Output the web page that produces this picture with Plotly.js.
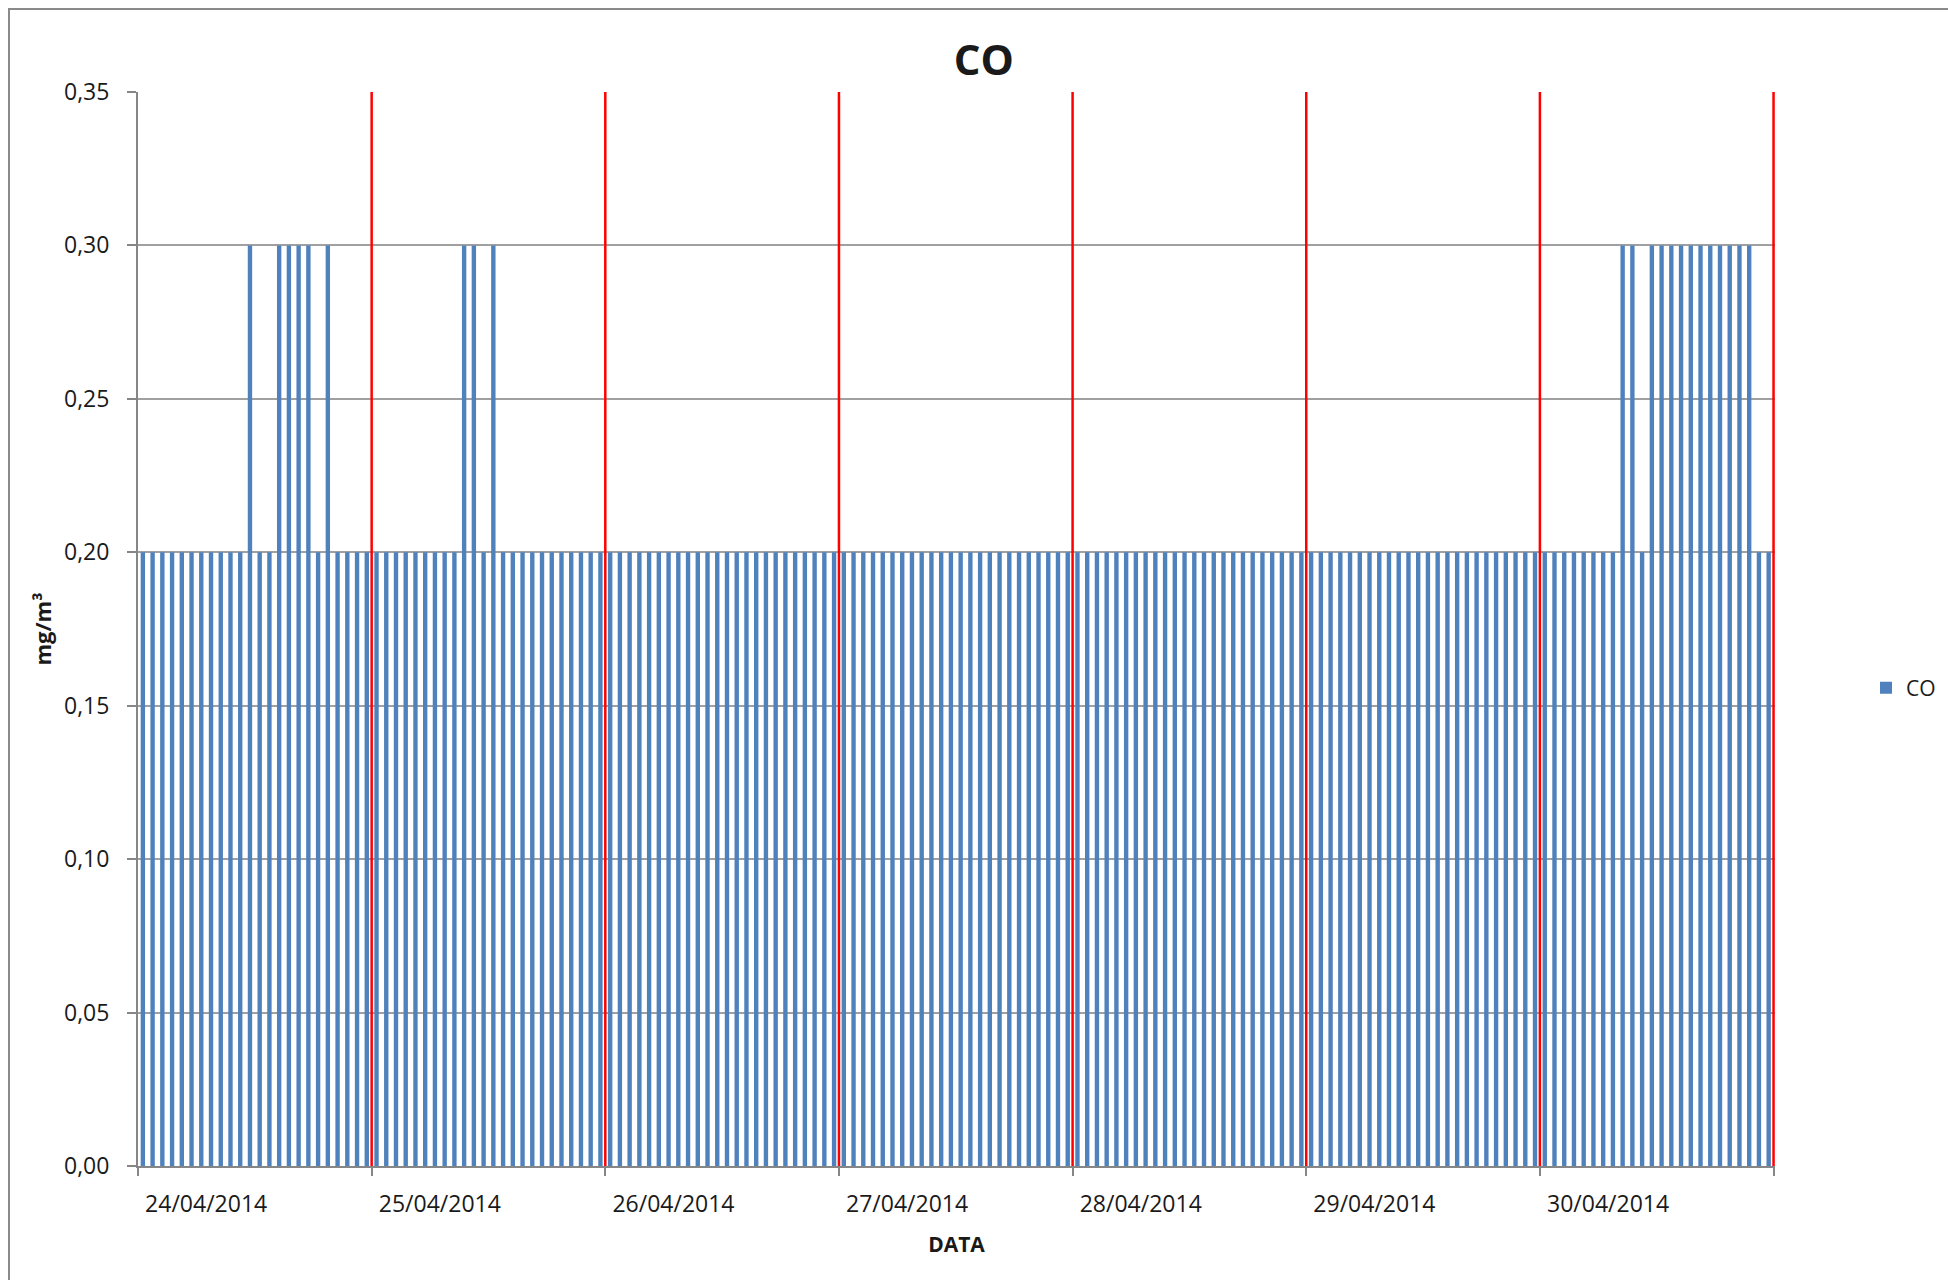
<!DOCTYPE html>
<html>
<head>
<meta charset="utf-8">
<script src="https://cdn.plot.ly/plotly-3.0.1.min.js"></script>
<style>
  html, body { margin: 0; padding: 0; background: #ffffff; overflow: hidden; }
  #frame { position: absolute; left: 8px; top: 8px; width: 2100px; height: 1400px;
           border-left: 2px solid #8a8a8a; border-top: 2px solid #8a8a8a; box-sizing: border-box; }
  #chart { position: absolute; left: 0; top: 0; width: 1948px; height: 1280px; }
</style>
</head>
<body>
<div id="frame"></div>
<div id="chart"></div>
<script>
// Dates (one per day, 24 hourly readings each)
const dates = ["24/04/2014", "25/04/2014", "26/04/2014", "27/04/2014", "28/04/2014", "29/04/2014", "30/04/2014"];
const hoursPerDay = 24;

// Hourly CO values (mg/m³), hours 0..23
const co_24_04 = [0.20,0.20,0.20,0.20,0.20,0.20,0.20,0.20,0.20,0.20,0.20,0.30,0.20,0.20,0.30,0.30,0.30,0.30,0.20,0.30,0.20,0.20,0.20,0.20];
const co_25_04 = [0.20,0.20,0.20,0.20,0.20,0.20,0.20,0.20,0.20,0.30,0.30,0.20,0.30,0.20,0.20,0.20,0.20,0.20,0.20,0.20,0.20,0.20,0.20,0.20];
const co_26_04 = [0.20,0.20,0.20,0.20,0.20,0.20,0.20,0.20,0.20,0.20,0.20,0.20,0.20,0.20,0.20,0.20,0.20,0.20,0.20,0.20,0.20,0.20,0.20,0.20];
const co_27_04 = [0.20,0.20,0.20,0.20,0.20,0.20,0.20,0.20,0.20,0.20,0.20,0.20,0.20,0.20,0.20,0.20,0.20,0.20,0.20,0.20,0.20,0.20,0.20,0.20];
const co_28_04 = [0.20,0.20,0.20,0.20,0.20,0.20,0.20,0.20,0.20,0.20,0.20,0.20,0.20,0.20,0.20,0.20,0.20,0.20,0.20,0.20,0.20,0.20,0.20,0.20];
const co_29_04 = [0.20,0.20,0.20,0.20,0.20,0.20,0.20,0.20,0.20,0.20,0.20,0.20,0.20,0.20,0.20,0.20,0.20,0.20,0.20,0.20,0.20,0.20,0.20,0.20];
const co_30_04 = [0.20,0.20,0.20,0.20,0.20,0.20,0.20,0.20,0.30,0.30,0.20,0.30,0.30,0.30,0.30,0.30,0.30,0.30,0.30,0.30,0.30,0.30,0.20,0.20];

// Y-axis ticks
const yTicks = [0, 0.05, 0.10, 0.15, 0.20, 0.25, 0.30, 0.35];
const yMax = 0.35;

const dayValues = [co_24_04, co_25_04, co_26_04, co_27_04, co_28_04, co_29_04, co_30_04];
const coValues = [].concat(...dayValues);
const nHours = coValues.length;
const xPos = coValues.map((v, i) => i + 0.5);

// day separators (red lines) at each day end
const dayEnds = dates.map((d, i) => (i + 1) * hoursPerDay);
const dayStarts = dates.map((d, i) => i * hoursPerDay);
const labelOffset = 7; // labels drawn slightly right of the day start, as in the original
const labelPos = dayStarts.map(s => s + labelOffset);

const sepX = [], sepY = [];
dayEnds.forEach(e => { sepX.push(e, e, null); sepY.push(0, yMax, null); });

// a tiny bit of room past the last separator so the red line is not clipped
const xRange = [0, nHours + 0.15];

const FONT = "Open Sans, Noto Sans, sans-serif";

const traces = [
  {
    type: "bar",
    name: "CO",
    x: xPos,
    y: coValues,
    marker: { color: "#4f81bd", line: { width: 0 } },
    xaxis: "x",
    yaxis: "y",
    hoverinfo: "y"
  },
  {
    type: "scatter",
    mode: "lines",
    x: sepX,
    y: sepY,
    line: { color: "#ff0000", width: 2.5 },
    showlegend: false,
    hoverinfo: "skip",
    xaxis: "x2",
    yaxis: "y"
  }
];

const layout = {
  width: 1948,
  height: 1280,
  paper_bgcolor: "rgba(0,0,0,0)",
  plot_bgcolor: "#ffffff",
  margin: { l: 138, r: 172.5, t: 92, b: 114 },
  separators: ",.",
  bargap: 0.55,
  showlegend: true,
  font: { family: FONT, color: "#1a1a1a", size: 23 },
  title: {
    text: "<b>CO</b>",
    font: { family: FONT, size: 42, color: "#1a1a1a" },
    x: (984 - 138) / 1637.5, xref: "paper", xanchor: "center",
    y: 1 - 60 / 1280, yref: "container", yanchor: "middle"
  },
  legend: {
    xref: "container", yref: "container",
    x: 1866 / 1948, y: 1 - 688 / 1280,
    xanchor: "left", yanchor: "middle",
    font: { family: FONT, size: 21, color: "#1a1a1a" },
    bgcolor: "rgba(0,0,0,0)",
    itemwidth: 30
  },
  xaxis: {
    range: xRange,
    tickmode: "array",
    tickvals: [0].concat(dayEnds),
    showticklabels: false,
    ticks: "outside",
    ticklen: 8,
    tickwidth: 2,
    tickcolor: "#868686",
    showgrid: false,
    zeroline: false,
    showline: true,
    linecolor: "#868686",
    linewidth: 2,
    title: {
      text: "<b>DATA</b>",
      font: { family: FONT, size: 21, color: "#1a1a1a" },
      standoff: 62
    },
    fixedrange: true
  },
  xaxis2: {
    overlaying: "x",
    anchor: "y",
    side: "bottom",
    range: xRange,
    tickmode: "array",
    tickvals: labelPos,
    ticktext: dates,
    ticks: "",
    ticklabelstandoff: 22,
    tickfont: { family: FONT, size: 23, color: "#1a1a1a" },
    showgrid: false,
    zeroline: false,
    showline: false,
    fixedrange: true
  },
  yaxis: {
    range: [0, yMax],
    tickmode: "array",
    tickvals: yTicks,
    tickformat: ".2f",
    ticks: "outside",
    ticklen: 9,
    tickwidth: 2,
    tickcolor: "#868686",
    ticklabelstandoff: 13,
    tickfont: { family: FONT, size: 23, color: "#1a1a1a" },
    showgrid: true,
    gridcolor: "#a0a0a0",
    gridwidth: 2,
    zeroline: false,
    showline: true,
    linecolor: "#868686",
    linewidth: 2,
    title: {
      text: "<b>mg/m³</b>",
      font: { family: FONT, size: 22, color: "#1a1a1a" },
      standoff: 6
    },
    fixedrange: true
  }
};

Plotly.newPlot("chart", traces, layout, { displayModeBar: false, staticPlot: true });
</script>
</body>
</html>
